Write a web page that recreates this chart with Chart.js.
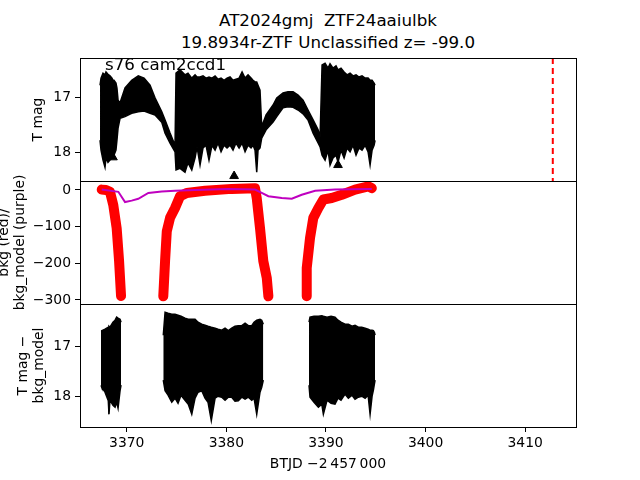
<!DOCTYPE html>
<html lang="en">
<head>
    <meta charset="UTF-8">
    <title>AT2024gmj light curve</title>
    <script src="https://cdn.jsdelivr.net/npm/chart.js"></script>
    <style>
        body {
            margin: 0;
            background: #fff;
            font-family: "DejaVu Sans", sans-serif;
        }
        .figure {
            position: relative;
            width: 640px;
            height: 480px;
        }
        .figure canvas {
            position: absolute;
            left: 0;
            top: 0;
        }
        .title {
            position: absolute;
            left: 128px;
            width: 400px;
            text-align: center;
            font-size: 16.7px;
            line-height: 22px;
            top: 9px;
            white-space: pre;
        }
        .note {
            position: absolute;
            left: 105px;
            top: 54px;
            font-size: 16.7px;
        }
    </style>
</head>
<body>
<div class="figure">
    <div class="title">AT2024gmj  ZTF24aaiulbk
19.8934r-ZTF Unclassified z= -99.0</div>
    <canvas id="lcChart" width="640" height="480"></canvas>
    <canvas id="bkgChart" width="640" height="480"></canvas>
    <canvas id="diffChart" width="640" height="480"></canvas>
    <div class="note">s76 cam2ccd1</div>
</div>
<script>
    // tick labels
    const xTicks = [3370, 3380, 3390, 3400, 3410];
    const magTicks = [17, 18];
    const bkgTicks = [0, -100, -200, -300];

    // vertical marker (red dashed)
    const peakTime = 3412.77;

    // top panel: T mag, upper / lower edge of the plotted points
    const lcTime = [3367.32, 3367.42, 3367.62, 3367.82, 3367.92, 3368.12, 3368.32, 3368.52, 3368.62, 3368.72,
        3368.92, 3369.02, 3369.13, 3369.33, 3369.83, 3370.50, 3371.16, 3371.74, 3372.34, 3372.84,
        3373.51, 3373.85, 3374.35, 3374.85, 3374.95, 3375.35, 3375.85, 3376.15, 3376.53, 3376.86,
        3377.06, 3377.36, 3377.66, 3377.96, 3378.26, 3378.56, 3378.87, 3379.17, 3379.47, 3379.77,
        3380.07, 3380.37, 3380.67, 3380.97, 3381.28, 3381.58, 3381.88, 3382.18, 3382.48, 3382.68,
        3382.88, 3383.05, 3383.18, 3383.38, 3383.55, 3383.99, 3384.69, 3385.06, 3385.69, 3386.19,
        3386.70, 3387.20, 3387.70, 3388.20, 3388.71, 3389.21, 3389.41, 3389.61, 3389.91, 3390.21,
        3390.41, 3390.71, 3391.01, 3391.21, 3391.51, 3391.82, 3392.12, 3392.42, 3392.72, 3393.02,
        3393.32, 3393.62, 3393.93, 3394.23, 3394.43, 3394.63, 3394.83, 3394.93];
    const lcTop = [16.78, 16.65, 16.56, 16.59, 16.54, 16.58, 16.61, 16.65, 16.69, 16.69,
        16.74, 16.83, 17.05, 17.10, 16.83, 16.69, 16.61, 16.65, 16.78, 17.01,
        17.26, 17.41, 17.65, 17.87, 16.56, 16.50, 16.59, 16.56, 16.65, 16.59,
        16.63, 16.63, 16.61, 16.65, 16.63, 16.65, 16.61, 16.67, 16.65, 16.69,
        16.65, 16.63, 16.69, 16.67, 16.65, 16.54, 16.65, 16.59, 16.65, 16.69,
        16.72, 16.72, 16.78, 16.87, 17.53, 17.32, 17.14, 17.01, 16.92, 16.90,
        16.90, 16.96, 17.05, 17.23, 17.41, 17.59, 17.72, 16.41, 16.38, 16.47,
        16.39, 16.47, 16.43, 16.50, 16.47, 16.54, 16.59, 16.56, 16.61, 16.59,
        16.63, 16.61, 16.65, 16.65, 16.69, 16.69, 16.74, 16.78];
    const lcBottom = [17.78, 17.96, 18.14, 18.27, 18.10, 18.18, 18.14, 18.10, 18.09, 18.05,
        17.96, 17.78, 17.56, 17.38, 17.35, 17.29, 17.26, 17.25, 17.29, 17.32,
        17.45, 17.65, 17.83, 17.99, 18.32, 18.29, 18.36, 18.19, 18.32, 18.10,
        17.90, 18.23, 17.92, 17.87, 18.14, 17.87, 17.96, 17.83, 17.99, 17.87,
        17.92, 17.87, 17.96, 17.83, 17.92, 17.83, 17.99, 17.87, 17.92, 17.87,
        17.96, 18.36, 17.96, 17.92, 17.74, 17.59, 17.45, 17.35, 17.19, 17.17,
        17.18, 17.23, 17.30, 17.41, 17.65, 17.83, 17.90, 18.05, 18.14, 17.96,
        18.23, 18.10, 18.05, 18.18, 17.96, 18.10, 17.92, 17.99, 17.87, 18.05,
        17.92, 17.96, 17.87, 17.99, 18.23, 17.96, 17.87, 17.78];

    // limit markers (triangles) in the top panel
    const limTime = [3368.62, 3380.78, 3391.21];
    const limMag = [18.09, 18.43, 18.23];

    // middle panel: background flux (red) in three pieces
    const bkgTime1 = [3367.49, 3367.92, 3368.32, 3368.65, 3368.99, 3369.23, 3369.43];
    const bkgFlux1 = [1, 0, -5, -41, -104, -193, -289];
    const bkgTime2 = [3373.67, 3373.85, 3374.02, 3374.35, 3374.85, 3375.35, 3376.02, 3377.86, 3380.54,
        3382.88, 3383.05, 3383.38, 3383.71, 3384.06, 3384.22];
    const bkgFlux2 = [-290, -194, -113, -76, -49, -17, -8, -2, 3, 5, -22, -104, -194, -240, -290];
    const bkgTime3 = [3388.07, 3388.07, 3388.40, 3388.73, 3389.24, 3389.74, 3390.58, 3391.59, 3392.92,
        3394.26, 3394.60];
    const bkgFlux3 = [-290, -213, -131, -76, -49, -26, -22, -13, 1, 10, 5];

    // middle panel: background model (purple)
    const modelTime = [3367.49, 3369.16, 3369.83, 3370.50, 3371.16, 3372.17, 3373.51, 3374.85, 3376.86,
        3380.20, 3382.88, 3383.55, 3384.22, 3385.56, 3386.57, 3387.57, 3388.91, 3390.91, 3394.60];
    const modelFlux = [1, -5, -33, -29, -24, -8, -4, -2, 0, 3, 1, -8, -17, -22, -24, -13, -2, 1, 3];

    // bottom panel: T mag - bkg_model, three blocks (upper / lower edge)
    const diffTime1 = [3367.42, 3367.49, 3367.82, 3368.15, 3368.22, 3368.32, 3368.62, 3368.83, 3368.99,
        3369.13, 3369.33, 3369.43];
    const diffTop1 = [16.71, 16.68, 16.65, 16.61, 16.59, 16.61, 16.51, 16.47, 16.41, 16.43, 16.45, 16.51];
    const diffBottom1 = [17.77, 17.81, 17.91, 18.08, 18.35, 18.07, 18.17, 18.21, 18.11, 18.23, 17.88, 17.77];

    const diffTime2 = [3373.67, 3373.85, 3374.15, 3374.52, 3374.85, 3375.15, 3375.45, 3375.85, 3376.18,
        3376.53, 3376.86, 3377.16, 3377.53, 3377.86, 3378.16, 3378.49, 3378.87, 3379.17, 3379.54,
        3379.87, 3380.20, 3380.54, 3380.87, 3381.20, 3381.55, 3381.88, 3382.21, 3382.55, 3382.78,
        3383.05, 3383.38, 3383.55, 3383.71];
    const diffTop2 = [16.77, 16.31, 16.33, 16.35, 16.35, 16.37, 16.39, 16.43, 16.45,
        16.45, 16.45, 16.51, 16.55, 16.57, 16.59, 16.61, 16.63, 16.65, 16.67,
        16.63, 16.68, 16.63, 16.59, 16.58, 16.58, 16.53, 16.58, 16.58, 16.51,
        16.47, 16.45, 16.47, 16.55];
    const diffBottom2 = [17.67, 17.88, 17.97, 18.11, 18.03, 18.13, 17.97, 18.07, 18.15,
        18.35, 18.03, 17.91, 17.88, 18.03, 18.11, 18.48, 18.03, 17.99, 18.01,
        18.07, 18.01, 18.01, 18.09, 18.08, 18.01, 18.05, 18.01, 18.07, 18.03,
        18.35, 17.91, 17.81, 17.67];

    const diffTime3 = [3388.30, 3388.40, 3388.80, 3389.24, 3389.58, 3389.74, 3390.11, 3390.51, 3390.91,
        3391.21, 3391.51, 3391.92, 3392.25, 3392.62, 3392.92, 3393.25, 3393.59, 3393.93, 3394.23,
        3394.43, 3394.63, 3394.76, 3394.86, 3394.93];
    const diffTop3 = [16.51, 16.41, 16.39, 16.39, 16.38, 16.39, 16.41, 16.39, 16.41,
        16.47, 16.51, 16.55, 16.55, 16.59, 16.57, 16.61, 16.61, 16.63, 16.65,
        16.67, 16.67, 16.68, 16.71, 16.77];
    const diffBottom3 = [17.77, 18.01, 18.11, 18.21, 18.15, 18.35, 18.07, 18.13, 18.15,
        18.03, 18.07, 17.95, 18.03, 17.97, 18.05, 18.01, 17.99, 18.03, 17.97,
        18.35, 17.99, 17.87, 17.75, 17.67];

    Chart.defaults.font.family = "DejaVu Sans";
    Chart.defaults.font.size = 13.9;
    Chart.defaults.color = "#000";

    const X_MIN = 3365.31, X_MAX = 3415.1;

    // box around every panel, like matplotlib spines
    const frame = {
        id: "frame",
        afterDraw(chart) {
            const a = chart.chartArea;
            const ctx = chart.ctx;
            ctx.save();
            ctx.strokeStyle = "#000";
            ctx.lineWidth = 1;
            ctx.strokeRect(Math.round(a.left) + 0.5, Math.round(a.top) + 0.5,
                Math.round(a.right - a.left), Math.round(a.bottom - a.top));
            ctx.restore();
        }
    };

    function pts(xs, ys) {
        return xs.map((x, i) => ({ x: x, y: ys[i] }));
    }

    // filled region between an upper and a lower edge
    function band(xs, top, bottom) {
        return [
            { data: pts(xs, top), borderColor: "#000", backgroundColor: "#000", borderWidth: 1.5,
              pointRadius: 0, fill: "+1", tension: 0 },
            { data: pts(xs, bottom), borderColor: "#000", borderWidth: 1.5,
              pointRadius: 0, fill: false, tension: 0 }
        ];
    }

    function minusSign(v) {
        return v < 0 ? "\u2212" + Math.abs(v) : String(v);
    }

    function xScale(show) {
        return {
            type: "linear",
            min: X_MIN,
            max: X_MAX,
            display: show,
            afterBuildTicks: s => { s.ticks = xTicks.map(v => ({ value: v })); },
            afterFit: s => { s.height = show ? 480 - 427 : 0; },
            ticks: { padding: 3, maxRotation: 0, callback: v => String(v) },
            grid: { drawOnChartArea: false, drawTicks: true, tickLength: 5, color: "#000" },
            border: { display: false },
            title: {
                display: show,
                text: "BTJD \u22122\u2009457\u2009000",
                font: { size: 13.9, lineHeight: 1.2 },
                padding: { top: 0, bottom: 7.7 }
            }
        };
    }

    function yScale(min, max, tickList, reverse, title, pad) {
        return {
            type: "linear",
            min: min,
            max: max,
            reverse: reverse,
            afterBuildTicks: s => { s.ticks = tickList.map(v => ({ value: v })); },
            afterFit: s => { s.width = 80; },
            ticks: { padding: 4, callback: v => minusSign(v) },
            grid: { drawOnChartArea: false, drawTicks: true, tickLength: 5, color: "#000" },
            border: { display: false },
            title: {
                display: true,
                text: title,
                font: { size: 13.9, lineHeight: 1.2 },
                padding: { top: pad, bottom: 0 }
            }
        };
    }

    function baseOptions(top, bottom, showX, y) {
        return {
            responsive: false,
            animation: false,
            layout: { padding: { left: 0, right: 64, top: top, bottom: bottom } },
            plugins: { legend: { display: false }, tooltip: { enabled: false } },
            scales: { x: xScale(showX), y: y }
        };
    }

    // top panel
    const Y1_MIN = 16.285, Y1_MAX = 18.52;
    new Chart(document.getElementById("lcChart"), {
        type: "line",
        data: {
            datasets: [
                ...band(lcTime, lcTop, lcBottom),
                { type: "scatter", data: pts(limTime, limMag), pointStyle: "triangle", pointRadius: 5,
                  backgroundColor: "#000", borderColor: "#000", showLine: false },
                { data: [{ x: peakTime, y: Y1_MIN }, { x: peakTime, y: Y1_MAX }], borderColor: "#ff0000",
                  borderWidth: 2, borderDash: [6, 4], pointRadius: 0, fill: false }
            ]
        },
        options: baseOptions(58, 480 - 181, false,
            yScale(Y1_MIN, Y1_MAX, magTicks, true, "T mag", 29.7)),
        plugins: [frame]
    });

    // middle panel
    function redLine(ts, fs) {
        return { data: pts(ts, fs), borderColor: "#ff0000", borderWidth: 10, borderCapStyle: "round",
                 borderJoinStyle: "round", pointRadius: 0, fill: false, order: 1 };
    }
    new Chart(document.getElementById("bkgChart"), {
        type: "line",
        data: {
            datasets: [
                { data: pts(modelTime, modelFlux), borderColor: "#bf00bf", borderWidth: 2,
                  pointRadius: 0, fill: false, order: 0 },
                redLine(bkgTime1, bkgFlux1),
                redLine(bkgTime2, bkgFlux2),
                redLine(bkgTime3, bkgFlux3)
            ]
        },
        options: baseOptions(181, 480 - 304, false,
            yScale(-311, 24.5, bkgTicks, false, ["bkg (red)/", "bkg_model (purple)"], -4.3)),
        plugins: [frame]
    });

    // bottom panel
    new Chart(document.getElementById("diffChart"), {
        type: "line",
        data: {
            datasets: [
                ...band(diffTime1, diffTop1, diffBottom1),
                ...band(diffTime2, diffTop2, diffBottom2),
                ...band(diffTime3, diffTop3, diffBottom3)
            ]
        },
        options: baseOptions(304, 0, true,
            yScale(16.146, 18.606, magTicks, true, ["T mag \u2212", "bkg_model"], 14.7)),
        plugins: [frame]
    });
</script>
</body>
</html>
